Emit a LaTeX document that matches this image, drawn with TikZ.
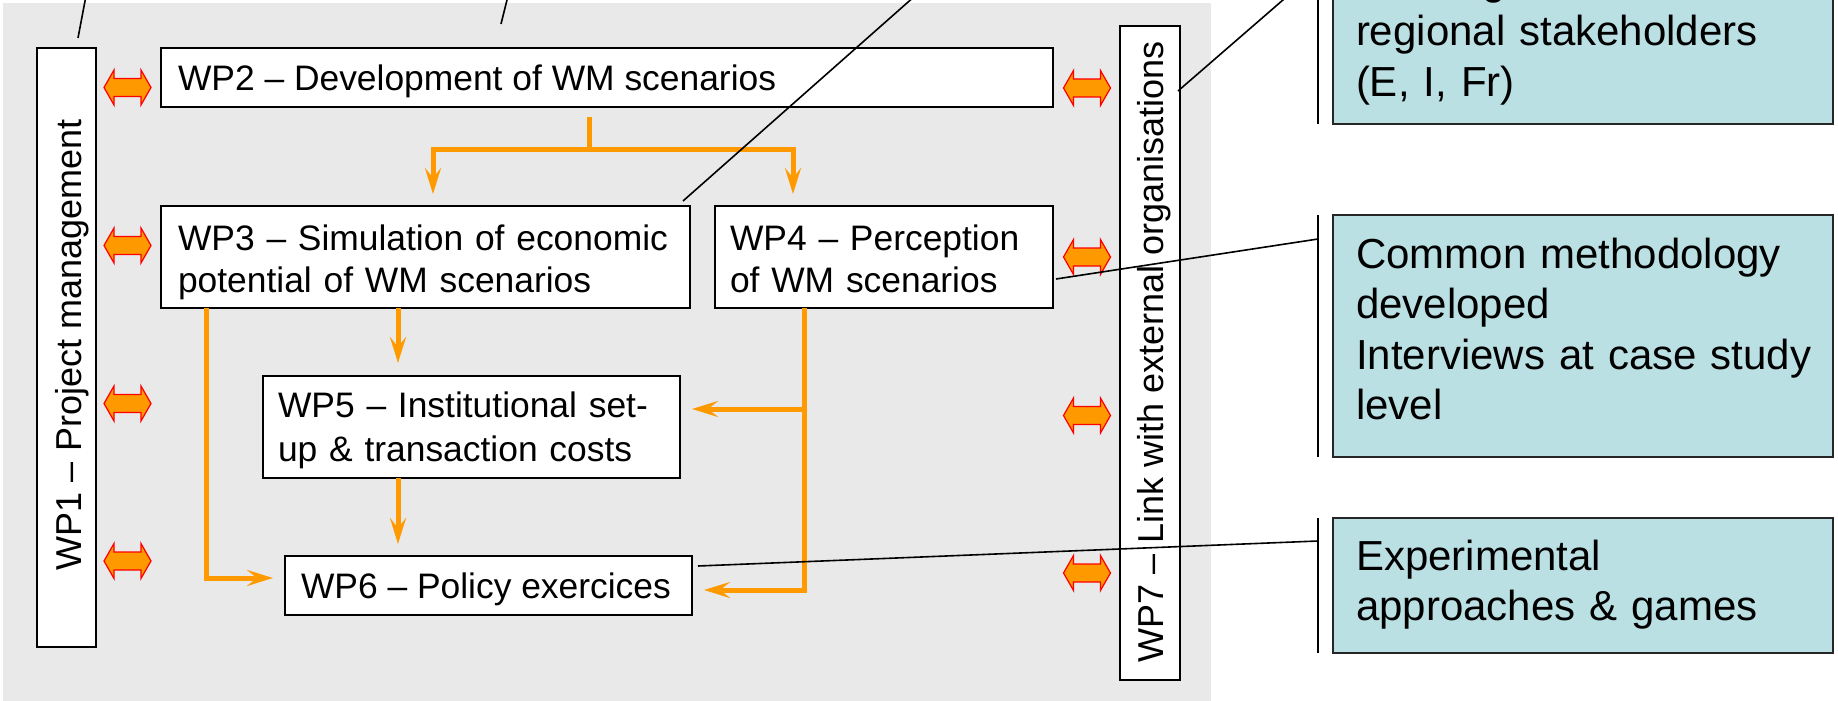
\documentclass[tikz,border=0pt]{standalone}
\usepackage{fontspec}
\setmainfont{Liberation Sans}
\usetikzlibrary{arrows.meta,calc}
\definecolor{bggray}{RGB}{233,233,233}
\definecolor{flowor}{RGB}{255,153,0}
\definecolor{tealbox}{RGB}{187,224,227}
\tikzset{
  dblarrow/.pic={\path[draw=red, fill=flowor, line width=0.6pt, line join=miter]
    (-23.5,0) -- (-13.5,-17.5) -- (-13.5,-9) -- (13.5,-9) -- (13.5,-17.5) -- (23.5,0)
    -- (13.5,17.5) -- (13.5,9) -- (-13.5,9) -- (-13.5,17.5) -- cycle;}
}
\begin{document}
\begin{tikzpicture}[x=0.5pt, y=-0.5pt,
  wpbox/.style={draw=black, line width=0.6pt, fill=white, inner sep=0pt, outer sep=0pt, anchor=north west},
  tealnode/.style={draw=black!85, line width=0.8pt, fill=tealbox, inner sep=0pt, outer sep=0pt, anchor=north west, minimum width=250pt},
  wptext/.style={inner sep=0pt, outer sep=0pt, anchor=base west, align=left, font=\fontsize{17.7}{21}\selectfont},
  tealtext/.style={inner sep=0pt, outer sep=0pt, anchor=base west, align=left, text width=236pt, font=\fontsize{21}{25.3}\selectfont},
  flowline/.style={draw=flowor, line width=2.5pt},
  flow/.style={flowline, -{Stealth[length=13pt, width=8pt, inset=5pt]}},
  callout/.style={draw=black, line width=0.8pt}
]
\useasboundingbox (0,0) rectangle (1838,701);
\clip (0,0) rectangle (1838,701);

% background panel
\node[fill=bggray, anchor=north west, inner sep=0pt, outer sep=0pt, minimum width=604pt, minimum height=349pt] (panel) at (3,3) {};

% boxes
\node[wpbox, minimum width=29.5pt, minimum height=299.5pt] (wp1) at (37,48) {};
\node[wpbox, minimum width=446pt, minimum height=29.5pt] (wp2) at (161,48) {};
\node[wpbox, minimum width=264.5pt, minimum height=51pt] (wp3) at (161,206) {};
\node[wpbox, minimum width=169pt, minimum height=51pt] (wp4) at (715,206) {};
\node[wpbox, minimum width=208.5pt, minimum height=51pt] (wp5) at (263,376) {};
\node[wpbox, minimum width=203.5pt, minimum height=29.5pt] (wp6) at (285,556) {};
\node[wpbox, minimum width=30pt, minimum height=327pt] (wp7) at (1120,26) {};
\node[tealnode, minimum height=137pt] (teal1) at (1333,-150) {};
\node[tealnode, minimum height=121pt] (teal2) at (1333,215) {};
\node[tealnode, minimum height=67.5pt] (teal3) at (1333,518) {};

% texts
\node[wptext, rotate=90, font=\fontsize{18}{21}\selectfont] (t1) at (81.5,570) {WP1 – Project management};
\node[wptext] (t2) at (178,91) {WP2 – Development of WM scenarios};
\node[wptext, text width=262pt] (t3) at (178,250) {WP3 – Simulation of economic\\potential of WM scenarios};
\node[wptext, text width=160pt] (t4) at (730,250) {WP4 – Perception\\of WM scenarios};
\node[wptext, text width=200pt, font=\fontsize{17.7}{22}\selectfont] (t5) at (278,417) {WP5 – Institutional set-\\up \& transaction costs};
\node[wptext] (t6) at (301,598) {WP6 – Policy exercices};
\node[wptext, rotate=90, font=\fontsize{18}{21}\selectfont] (t7) at (1163,662) {WP7 – Link with external organisations};
\node[tealtext, font=\fontsize{21}{25.5}\selectfont] (n1) at (1356,-5) {Meetings with\\regional stakeholders\\(E, I, Fr)};
\node[tealtext] (n2) at (1356,268) {Common methodology\\developed\\Interviews at case study\\level};
\node[tealtext, font=\fontsize{21}{25}\selectfont] (n3) at (1356,570) {Experimental\\approaches \& games};

% flow connectors
\coordinate (cL) at (206,0);
\coordinate (c35) at (398,0);
\coordinate (cS) at (589,0);
\coordinate (c3) at (433,0);
\coordinate (c4) at (793,0);
\coordinate (c46) at (804,0);
\coordinate (rS) at (0,150);
\coordinate (r45) at (0,409);
\coordinate (r36) at (0,578);
\coordinate (r46) at (0,590);
\coordinate (split) at (cS |- rS);

\draw[flowline, shorten <=5pt] (wp2.south -| split) -- (split);
\draw[flow, shorten >=6pt] (split) -| (wp3.north -| c3);
\draw[flow, shorten >=6pt] (split) -| (wp4.north -| c4);
\draw[flow, shorten >=6.5pt] (wp3.south -| c35) -- (wp5.north -| c35);
\draw[flow, shorten >=6pt] (wp5.south -| c35) -- (wp6.north -| c35);
\draw[flow, shorten >=6pt] (wp3.south -| cL) |- (wp6.west |- r36);
\draw[flow, shorten >=6pt] (wp4.south -| c46) |- (wp5.east |- r45);
\draw[flow, shorten >=6pt] (wp4.south -| c46) |- (wp6.east |- r46);

% double arrows
\pic at (127.5,87.5) {dblarrow};
\pic at (127.5,245.5) {dblarrow};
\pic at (127.5,403.5) {dblarrow};
\pic at (127.5,561) {dblarrow};
\pic at (1087,88) {dblarrow};
\pic at (1087,257) {dblarrow};
\pic at (1087,415.5) {dblarrow};
\pic at (1087,573) {dblarrow};

% callout lines
\coordinate (e1) at (89,-20);
\coordinate (e2) at (512,-20);
\coordinate (e3) at (933,-20);
\coordinate (e7) at (1306,-20);
\draw[callout] ($(teal1.north west)+(-15,0)$) -- ($(teal1.south west)+(-15,0)$);
\draw[callout] ($(teal2.north west)+(-15,0)$) -- ($(teal2.south west)+(-15,0)$);
\draw[callout] ($(teal3.north west)+(-15,0)$) -- ($(teal3.south west)+(-15,0)$);
\draw[callout] ($(wp1.north west)+(41,-10)$) -- (e1);
\draw[callout] ($(wp2.north west)+(340,-24)$) -- (e2);
\draw[callout] ($(wp3.north east)+(-7,-5)$) -- (e3);
\draw[callout] ($(wp7.north east)+(-2,65)$) -- (e7);
\draw[callout] ($(wp4.north east)+(3,73)$) -- ($(teal2.north west)+(-15,24)$);
\draw[callout] ($(wp6.north east)+(6,10)$) -- ($(teal3.north west)+(-15,23)$);
\end{tikzpicture}
\end{document}
